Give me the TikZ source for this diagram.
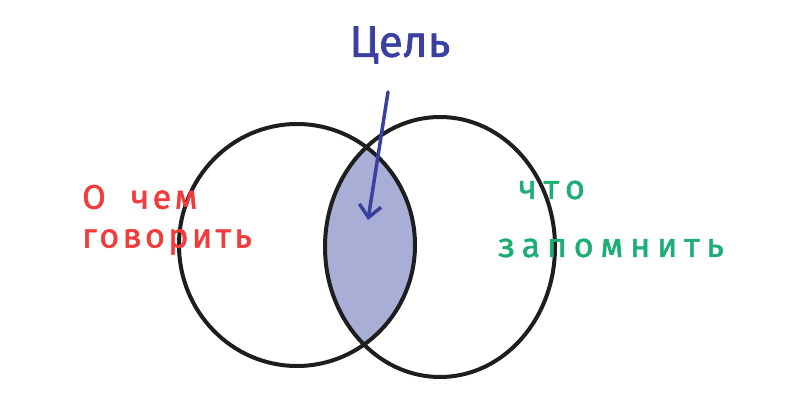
\documentclass[tikz,border=0pt]{standalone}
\usepackage{fontspec}
\setmainfont{Fira Sans}
\newfontfamily\redfont[LetterSpace=10,FakeBold=1.5]{Fira Sans}
\newfontfamily\greenfont[LetterSpace=20,FakeBold=1.5]{Fira Sans}
\newfontfamily\goalfont[FakeBold=1.5]{Fira Sans}
\usetikzlibrary{arrows.meta}
\definecolor{ringc}{HTML}{1E1E1E}
\definecolor{fillc}{HTML}{A9AED6}
\definecolor{goalc}{HTML}{3A40A0}
\definecolor{redc}{HTML}{F23B3B}
\definecolor{greenc}{HTML}{1CAE74}
\tikzset{
  ring/.style={draw=ringc, line width=4pt},
  lbl/.style={inner sep=0pt, align=left},
}
\begin{document}
\begin{tikzpicture}[x=1pt,y=-1pt]
\useasboundingbox (0,0) rectangle (804,417);
\begin{scope}
  \clip (297,245) ellipse [x radius=118, y radius=121];
  \fill[fillc] (440,247) ellipse [x radius=115, y radius=130];
\end{scope}
\draw[ring] (297,245) ellipse [x radius=118, y radius=121];
\draw[ring] (440,247) ellipse [x radius=115, y radius=130];
\node[lbl, text=goalc, font=\goalfont\fontsize{44}{50}\selectfont] (goal) at (400,45) {Цель};
\coordinate (a1) at (388,92);
\coordinate (a2) at (368,220);
\draw[goalc, line width=3.5pt, line cap=round, -{Straight Barb[length=12pt,width=22pt]}] (a1) -- (a2);
\node[lbl, text=redc, anchor=west, font=\redfont\fontsize{34}{40}\selectfont] (t1) at (82,197) {О\ \ чем};
\node[lbl, text=redc, anchor=west, font=\redfont\fontsize{34}{40}\selectfont] (t2) at (82,242) {говорить};
\node[lbl, text=greenc, anchor=west, font=\greenfont\fontsize{34}{40}\selectfont] (t3) at (518,190) {что};
\node[lbl, text=greenc, anchor=west, font=\greenfont\fontsize{34}{40}\selectfont] (t4) at (498,248) {запомнить};
\end{tikzpicture}
\end{document}
